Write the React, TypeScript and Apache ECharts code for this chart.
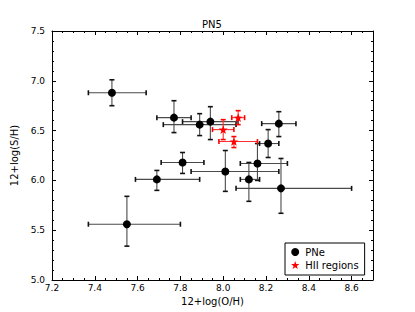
import React, { useEffect, useRef } from "react";
import * as echarts from "echarts";

// PNe data
const pneX = [7.48, 7.77, 7.89, 7.94, 8.26, 8.21, 7.81, 8.16, 8.01, 7.69, 8.12, 8.27, 7.55];
const pneY = [6.88, 6.63, 6.56, 6.59, 6.57, 6.37, 6.18, 6.17, 6.09, 6.01, 6.01, 5.92, 5.56];
const pneXLow = [7.37, 7.69, 7.72, 7.81, 8.18, 8.17, 7.71, 8.08, 7.85, 7.59, 8.08, 8.06, 7.37];
const pneXHigh = [7.64, 7.85, 8.06, 8.07, 8.34, 8.26, 7.91, 8.3, 8.26, 7.89, 8.17, 8.6, 7.8];
const pneYLow = [6.75, 6.48, 6.45, 6.41, 6.44, 6.23, 6.07, 6.0, 5.89, 5.9, 5.79, 5.67, 5.34];
const pneYHigh = [7.01, 6.8, 6.67, 6.74, 6.69, 6.51, 6.28, 6.37, 6.3, 6.1, 6.18, 6.22, 5.84];

// HII regions data
const hiiX = [8.07, 8.0, 8.05];
const hiiY = [6.63, 6.51, 6.39];
const hiiXLow = [8.04, 7.95, 7.98];
const hiiXHigh = [8.1, 8.05, 8.16];
const hiiYLow = [6.56, 6.41, 6.33];
const hiiYHigh = [6.7, 6.61, 6.44];

const titleText = "PN5";
const xName = "12+log(O/H)";
const yName = "12+log(S/H)";
const seriesNames = ["PNe", "HII regions"];

const STAR =
  "path://M0,-10 L2.35,-3.24 L9.51,-3.09 L3.8,1.24 L5.88,8.09 L0,4 L-5.88,8.09 L-3.8,1.24 L-9.51,-3.09 L-2.35,-3.24 Z";

const FONT = "DejaVu Sans";

function buildErr(xs: number[], ys: number[], xl: number[], xh: number[], yl: number[], yh: number[]) {
  return xs.map((x, i) => [x, ys[i], xl[i], xh[i], yl[i], yh[i]]);
}

function makeErrRender(color: string, capColor: string) {
  return (params: any, api: any) => {
    const x = api.value(0);
    const y = api.value(1);
    const pL = api.coord([api.value(2), y]);
    const pR = api.coord([api.value(3), y]);
    const pB = api.coord([x, api.value(4)]);
    const pT = api.coord([x, api.value(5)]);
    const cap = 2.5;
    const s = { stroke: color, lineWidth: 1.1 };
    const c = { stroke: capColor, lineWidth: 1.6 };
    return {
      type: "group",
      children: [
        { type: "line", shape: { x1: pL[0], y1: pL[1], x2: pR[0], y2: pR[1] }, style: s },
        { type: "line", shape: { x1: pB[0], y1: pB[1], x2: pT[0], y2: pT[1] }, style: s },
        { type: "line", shape: { x1: pL[0], y1: pL[1] - cap, x2: pL[0], y2: pL[1] + cap }, style: c },
        { type: "line", shape: { x1: pR[0], y1: pR[1] - cap, x2: pR[0], y2: pR[1] + cap }, style: c },
        { type: "line", shape: { x1: pB[0] - cap, y1: pB[1], x2: pB[0] + cap, y2: pB[1] }, style: c },
        { type: "line", shape: { x1: pT[0] - cap, y1: pT[1], x2: pT[0] + cap, y2: pT[1] }, style: c },
      ],
    };
  };
}

function fmtMajor(step: number) {
  return (v: number) => {
    const k = v / step;
    return Math.abs(k - Math.round(k)) < 1e-6 ? v.toFixed(1) : "";
  };
}

export default function App() {
  const ref = useRef<HTMLDivElement>(null);
  useEffect(() => {
    if (!ref.current) return;
    const chart = echarts.init(ref.current, undefined, { renderer: "svg" });
    const xBase = { type: "value", min: 7.2, max: 8.7, gridIndex: 0, splitLine: { show: false } };
    const yBase = { type: "value", min: 5.0, max: 7.5, gridIndex: 0, splitLine: { show: false } };
    const lineBlack = { show: true, lineStyle: { color: "#000", width: 1 } };
    const option: any = {
      animation: false,
      backgroundColor: "#fff",
      textStyle: { fontFamily: FONT, color: "#000" },
      title: {
        text: titleText,
        left: 212,
        textAlign: "center",
        top: 19,
        padding: 0,
        textStyle: { fontFamily: FONT, fontSize: 10, fontWeight: "normal", color: "#000" },
      },
      grid: { left: 52, top: 31, width: 321, height: 249, show: false },
      xAxis: [
        {
          ...xBase,
          position: "bottom",
          interval: 0.2,
          axisLine: lineBlack,
          axisTick: { show: true, inside: true, length: 4, lineStyle: { color: "#000" } },
          axisLabel: { show: true, margin: 3, fontSize: 9, color: "#000", fontFamily: FONT, formatter: fmtMajor(0.2) },
          name: xName,
          nameLocation: "middle",
          nameGap: 13,
          nameTextStyle: { fontFamily: FONT, fontSize: 10, color: "#000" },
        },
        {
          ...xBase,
          position: "bottom",
          interval: 0.05,
          axisLine: { show: false },
          axisTick: { show: true, inside: true, length: 2, lineStyle: { color: "#000" } },
          axisLabel: { show: false },
        },
        {
          ...xBase,
          position: "top",
          interval: 0.2,
          axisLine: lineBlack,
          axisTick: { show: true, inside: true, length: 4, lineStyle: { color: "#000" } },
          axisLabel: { show: false },
        },
        {
          ...xBase,
          position: "top",
          interval: 0.05,
          axisLine: { show: false },
          axisTick: { show: true, inside: true, length: 2, lineStyle: { color: "#000" } },
          axisLabel: { show: false },
        },
      ],
      yAxis: [
        {
          ...yBase,
          position: "left",
          interval: 0.5,
          axisLine: lineBlack,
          axisTick: { show: true, inside: true, length: 4, lineStyle: { color: "#000" } },
          axisLabel: { show: true, margin: 7, fontSize: 9, color: "#000", fontFamily: FONT, formatter: fmtMajor(0.5) },
          name: yName,
          nameLocation: "middle",
          nameGap: 21,
          nameTextStyle: { fontFamily: FONT, fontSize: 10, color: "#000" },
        },
        {
          ...yBase,
          position: "left",
          interval: 0.1,
          axisLine: { show: false },
          axisTick: { show: true, inside: true, length: 2, lineStyle: { color: "#000" } },
          axisLabel: { show: false },
        },
        {
          ...yBase,
          position: "right",
          interval: 0.5,
          axisLine: lineBlack,
          axisTick: { show: true, inside: true, length: 4, lineStyle: { color: "#000" } },
          axisLabel: { show: false },
        },
        {
          ...yBase,
          position: "right",
          interval: 0.1,
          axisLine: { show: false },
          axisTick: { show: true, inside: true, length: 2, lineStyle: { color: "#000" } },
          axisLabel: { show: false },
        },
      ],
      legend: {
        data: [
          { name: seriesNames[0], icon: "circle" },
          { name: seriesNames[1], icon: STAR },
        ],
        orient: "vertical",
        left: 285,
        top: 243,
        padding: [4, 6, 5, 6],
        itemWidth: 10,
        itemHeight: 8,
        itemGap: 3,
        itemTextGap: 9,
        borderColor: "#000",
        borderWidth: 1,
        borderRadius: 0,
        textStyle: { fontFamily: FONT, fontSize: 10, color: "#000" },
      },
      series: [
        {
          type: "custom",
          name: "pneErr",
          xAxisIndex: 0,
          yAxisIndex: 0,
          renderItem: makeErrRender("#4a4a4a", "#111"),
          encode: { x: 0, y: 1 },
          data: buildErr(pneX, pneY, pneXLow, pneXHigh, pneYLow, pneYHigh),
          z: 2,
        },
        {
          type: "scatter",
          name: seriesNames[0],
          xAxisIndex: 0,
          yAxisIndex: 0,
          symbol: "circle",
          symbolSize: 8,
          itemStyle: { color: "#000", opacity: 1 },
          data: pneX.map((x, i) => [x, pneY[i]]),
          z: 3,
        },
        {
          type: "custom",
          name: "hiiErr",
          xAxisIndex: 0,
          yAxisIndex: 0,
          renderItem: makeErrRender("#ff3030", "#ff0000"),
          encode: { x: 0, y: 1 },
          data: buildErr(hiiX, hiiY, hiiXLow, hiiXHigh, hiiYLow, hiiYHigh),
          z: 4,
        },
        {
          type: "scatter",
          name: seriesNames[1],
          xAxisIndex: 0,
          yAxisIndex: 0,
          symbol: STAR,
          symbolSize: 9,
          symbolKeepAspect: true,
          itemStyle: { color: "#ff0000", opacity: 1 },
          data: hiiX.map((x, i) => [x, hiiY[i]]),
          z: 5,
        },
      ],
    };
    chart.setOption(option);
    return () => chart.dispose();
  }, []);
  return (
    <div
      ref={ref}
      style={{ position: "absolute", left: 0, top: 0, width: 415, height: 312, background: "#fff" }}
    />
  );
}
